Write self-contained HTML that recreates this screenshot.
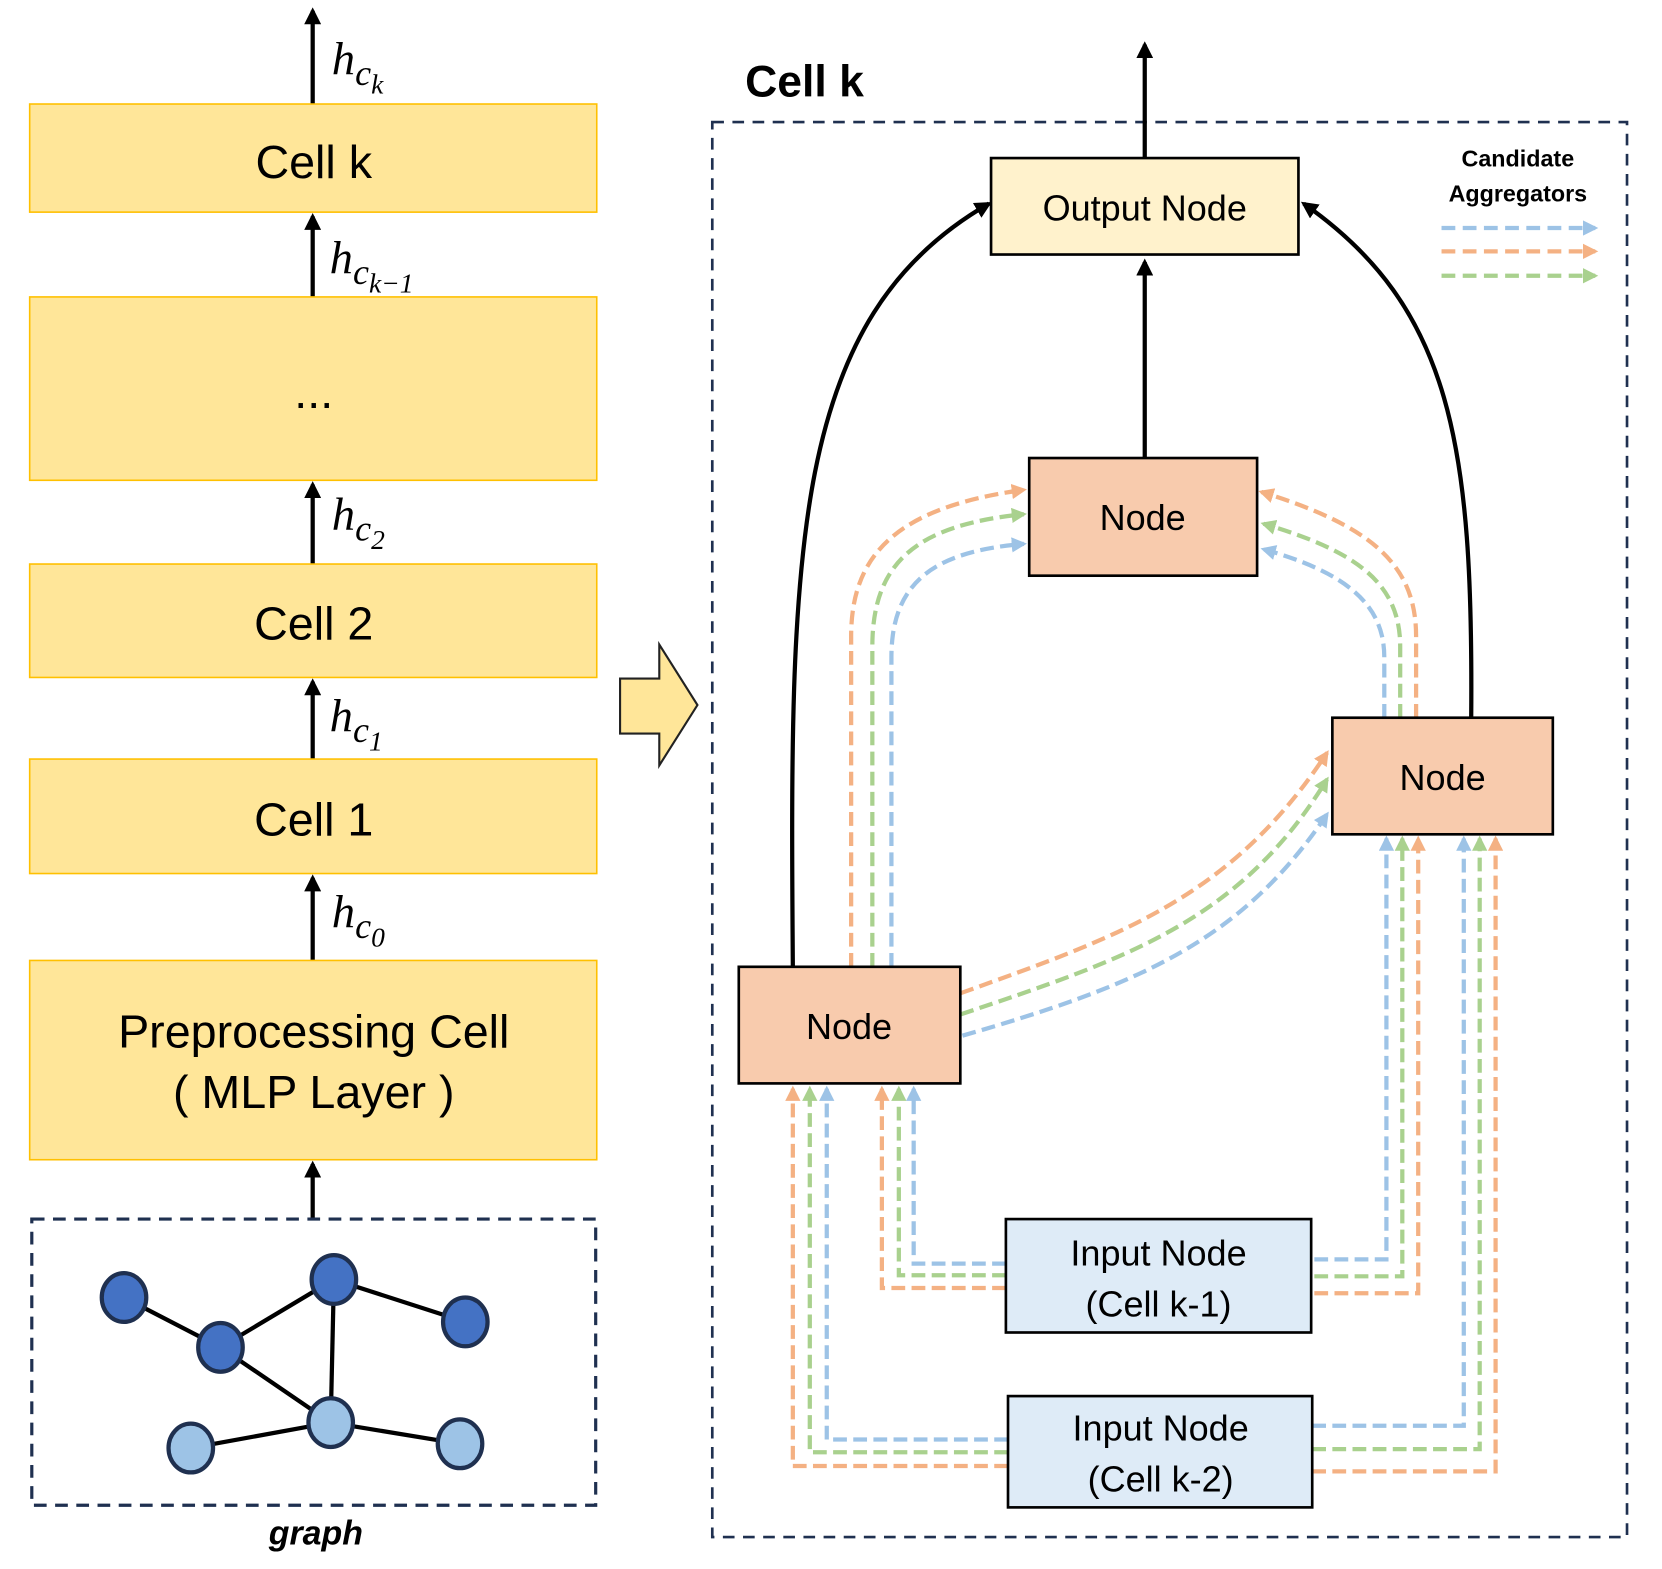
<!DOCTYPE html>
<html><head><meta charset="utf-8"><style>html,body{margin:0;padding:0;background:#fff}svg{display:block}</style></head><body>
<svg width="1662" height="1569" viewBox="0 0 1568 1480" xmlns="http://www.w3.org/2000/svg">
<defs>
<marker id="mk" viewBox="0 0 10 10" refX="8" refY="5" markerWidth="4" markerHeight="4" orient="auto" markerUnits="strokeWidth"><path d="M0,0 L10,5 L0,10 z" fill="#000"/></marker>
<marker id="mb" viewBox="0 0 10 10" refX="8" refY="5" markerWidth="3.6" markerHeight="3.6" orient="auto" markerUnits="strokeWidth"><path d="M0,0 L10,5 L0,10 z" fill="#9DC3E6"/></marker>
<marker id="mo" viewBox="0 0 10 10" refX="8" refY="5" markerWidth="3.6" markerHeight="3.6" orient="auto" markerUnits="strokeWidth"><path d="M0,0 L10,5 L0,10 z" fill="#F4B183"/></marker>
<marker id="mg" viewBox="0 0 10 10" refX="8" refY="5" markerWidth="3.6" markerHeight="3.6" orient="auto" markerUnits="strokeWidth"><path d="M0,0 L10,5 L0,10 z" fill="#A9D18E"/></marker>
</defs>
<g font-family="Liberation Sans, sans-serif">
<g stroke="#000" stroke-width="4" marker-end="url(#mk)">
<line x1="295" y1="98" x2="295" y2="10"/>
<line x1="295" y1="280" x2="295" y2="204"/>
<line x1="295" y1="532" x2="295" y2="457"/>
<line x1="295" y1="716" x2="295" y2="643"/>
<line x1="295" y1="906" x2="295" y2="828"/>
<line x1="295" y1="1150" x2="295" y2="1098"/>
</g>
<g fill="#FFE699" stroke="#FFC000" stroke-width="1.5">
<rect x="28" y="98" width="535" height="102"/>
<rect x="28" y="280" width="535" height="173"/>
<rect x="28" y="532" width="535" height="107"/>
<rect x="28" y="716" width="535" height="108"/>
<rect x="28" y="906" width="535" height="188"/>
</g>
<g font-size="44" text-anchor="middle" fill="#000">
<text x="296" y="168">Cell k</text>
<text x="296" y="385">...</text>
<text x="296" y="603">Cell 2</text>
<text x="296" y="788">Cell 1</text>
<text x="296" y="988">Preprocessing Cell</text>
<text x="296" y="1045">( MLP Layer )</text>
</g>
<g font-family="Liberation Serif, serif" font-style="italic" fill="#000">
<text x="313" y="70" font-size="44">h<tspan font-size="34" dy="10">c</tspan><tspan font-size="26" dy="8">k</tspan></text>
<text x="311" y="258" font-size="44">h<tspan font-size="34" dy="10">c</tspan><tspan font-size="26" dy="8">k−1</tspan></text>
<text x="313" y="500" font-size="44">h<tspan font-size="34" dy="10">c</tspan><tspan font-size="26" dy="8">2</tspan></text>
<text x="311" y="690" font-size="44">h<tspan font-size="34" dy="10">c</tspan><tspan font-size="26" dy="8">1</tspan></text>
<text x="313" y="875" font-size="44">h<tspan font-size="34" dy="10">c</tspan><tspan font-size="26" dy="8">0</tspan></text>
</g>
<rect x="30" y="1150" width="532" height="270" fill="none" stroke="#1F3050" stroke-width="3" stroke-dasharray="12 8"/>
<g stroke="#000" stroke-width="4">
<line x1="117" y1="1224" x2="208" y2="1271"/><line x1="208" y1="1271" x2="315" y2="1207"/>
<line x1="315" y1="1207" x2="439" y2="1247"/><line x1="315" y1="1207" x2="312" y2="1342"/>
<line x1="208" y1="1271" x2="312" y2="1342"/><line x1="180" y1="1366" x2="312" y2="1342"/>
<line x1="312" y1="1342" x2="434" y2="1362"/>
</g>
<g stroke="#1F3050" stroke-width="4">
<g fill="#4472C4"><ellipse cx="117" cy="1224" rx="21" ry="23"/><ellipse cx="208" cy="1271" rx="21" ry="23"/><ellipse cx="315" cy="1207" rx="21" ry="23"/><ellipse cx="439" cy="1247" rx="21" ry="23"/></g>
<g fill="#9DC3E6"><ellipse cx="312" cy="1342" rx="21" ry="23"/><ellipse cx="180" cy="1366" rx="21" ry="23"/><ellipse cx="434" cy="1362" rx="21" ry="23"/></g>
</g>
<text x="298" y="1457" font-size="32" font-weight="bold" font-style="italic" text-anchor="middle">graph</text>
<polygon points="585,640 622,640 622,608 658,665 622,722 622,692 585,692" fill="#FFE699" stroke="#222" stroke-width="2"/>
<text x="703" y="91" font-size="42" font-weight="bold">Cell k</text>
<rect x="672" y="115" width="863" height="1335" fill="none" stroke="#1F3050" stroke-width="2.5" stroke-dasharray="11 8"/>
<text x="1432" y="157" font-size="22" font-weight="bold" text-anchor="middle">Candidate</text>
<text x="1432" y="190" font-size="22" font-weight="bold" text-anchor="middle">Aggregators</text>
<g stroke-width="4" stroke-dasharray="13 7" fill="none">
<line x1="1360" y1="215" x2="1505" y2="215" stroke="#9DC3E6" marker-end="url(#mb)"/>
<line x1="1360" y1="237" x2="1505" y2="237" stroke="#F4B183" marker-end="url(#mo)"/>
<line x1="1360" y1="260" x2="1505" y2="260" stroke="#A9D18E" marker-end="url(#mg)"/>
</g>
<g stroke="#000" stroke-width="4" fill="none" marker-end="url(#mk)">
<line x1="1080" y1="149" x2="1080" y2="42"/>
<line x1="1080" y1="432" x2="1080" y2="247"/>
<path d="M748,912 C745,520 745,300 933,192"/>
<path d="M1388,677 C1390,420 1370,290 1230,192"/>
</g>
<g stroke-width="4" stroke-dasharray="13 6" fill="none">
<path d="M803,912 L803,600 C803,520 850,478 966,462" stroke="#F4B183" marker-end="url(#mo)"/>
<path d="M823,912 L823,610 C823,530 865,495 966,485" stroke="#A9D18E" marker-end="url(#mg)"/>
<path d="M841,912 L841,620 C841,550 880,520 966,513" stroke="#9DC3E6" marker-end="url(#mb)"/>
<path d="M1336,677 L1336,600 C1336,530 1290,495 1190,464" stroke="#F4B183" marker-end="url(#mo)"/>
<path d="M1321,677 L1321,610 C1321,550 1280,520 1192,494" stroke="#A9D18E" marker-end="url(#mg)"/>
<path d="M1306,677 L1306,620 C1306,570 1270,540 1192,518" stroke="#9DC3E6" marker-end="url(#mb)"/>
<path d="M906,937 C1050,885 1160,850 1252,710" stroke="#F4B183" marker-end="url(#mo)"/>
<path d="M906,957 C1060,905 1170,870 1252,735" stroke="#A9D18E" marker-end="url(#mg)"/>
<path d="M908,977 C1070,930 1170,890 1252,768" stroke="#9DC3E6" marker-end="url(#mb)"/>
<path d="M949,1192 L862,1192 L862,1027" stroke="#9DC3E6" marker-end="url(#mb)"/>
<path d="M949,1203 L848,1203 L848,1027" stroke="#A9D18E" marker-end="url(#mg)"/>
<path d="M949,1215 L832,1215 L832,1027" stroke="#F4B183" marker-end="url(#mo)"/>
<path d="M1240,1188 L1308,1188 L1308,791" stroke="#9DC3E6" marker-end="url(#mb)"/>
<path d="M1240,1204 L1323,1204 L1323,791" stroke="#A9D18E" marker-end="url(#mg)"/>
<path d="M1240,1220 L1338,1220 L1338,791" stroke="#F4B183" marker-end="url(#mo)"/>
<path d="M951,1358 L780,1358 L780,1027" stroke="#9DC3E6" marker-end="url(#mb)"/>
<path d="M951,1370 L764,1370 L764,1027" stroke="#A9D18E" marker-end="url(#mg)"/>
<path d="M951,1383 L748,1383 L748,1027" stroke="#F4B183" marker-end="url(#mo)"/>
<path d="M1238,1345 L1381,1345 L1381,791" stroke="#9DC3E6" marker-end="url(#mb)"/>
<path d="M1238,1367 L1396,1367 L1396,791" stroke="#A9D18E" marker-end="url(#mg)"/>
<path d="M1238,1388 L1411,1388 L1411,791" stroke="#F4B183" marker-end="url(#mo)"/>
</g>
<g stroke="#000" stroke-width="2.5">
<rect x="935" y="149" width="290" height="91" fill="#FFF2CC"/>
<rect x="971" y="432" width="215" height="111" fill="#F8CBAD"/>
<rect x="1257" y="677" width="208" height="110" fill="#F8CBAD"/>
<rect x="697" y="912" width="209" height="110" fill="#F8CBAD"/>
<rect x="949" y="1150" width="288" height="107" fill="#DEEBF7"/>
<rect x="951" y="1317" width="287" height="105" fill="#DEEBF7"/>
</g>
<g font-size="34" text-anchor="middle" fill="#000">
<text x="1080" y="208">Output Node</text>
<text x="1078" y="500">Node</text>
<text x="1361" y="745">Node</text>
<text x="801" y="980">Node</text>
<text x="1093" y="1194">Input Node</text>
<text x="1093" y="1242">(Cell k-1)</text>
<text x="1095" y="1359">Input Node</text>
<text x="1095" y="1407">(Cell k-2)</text>
</g>
</g>
</svg>
</body></html>
